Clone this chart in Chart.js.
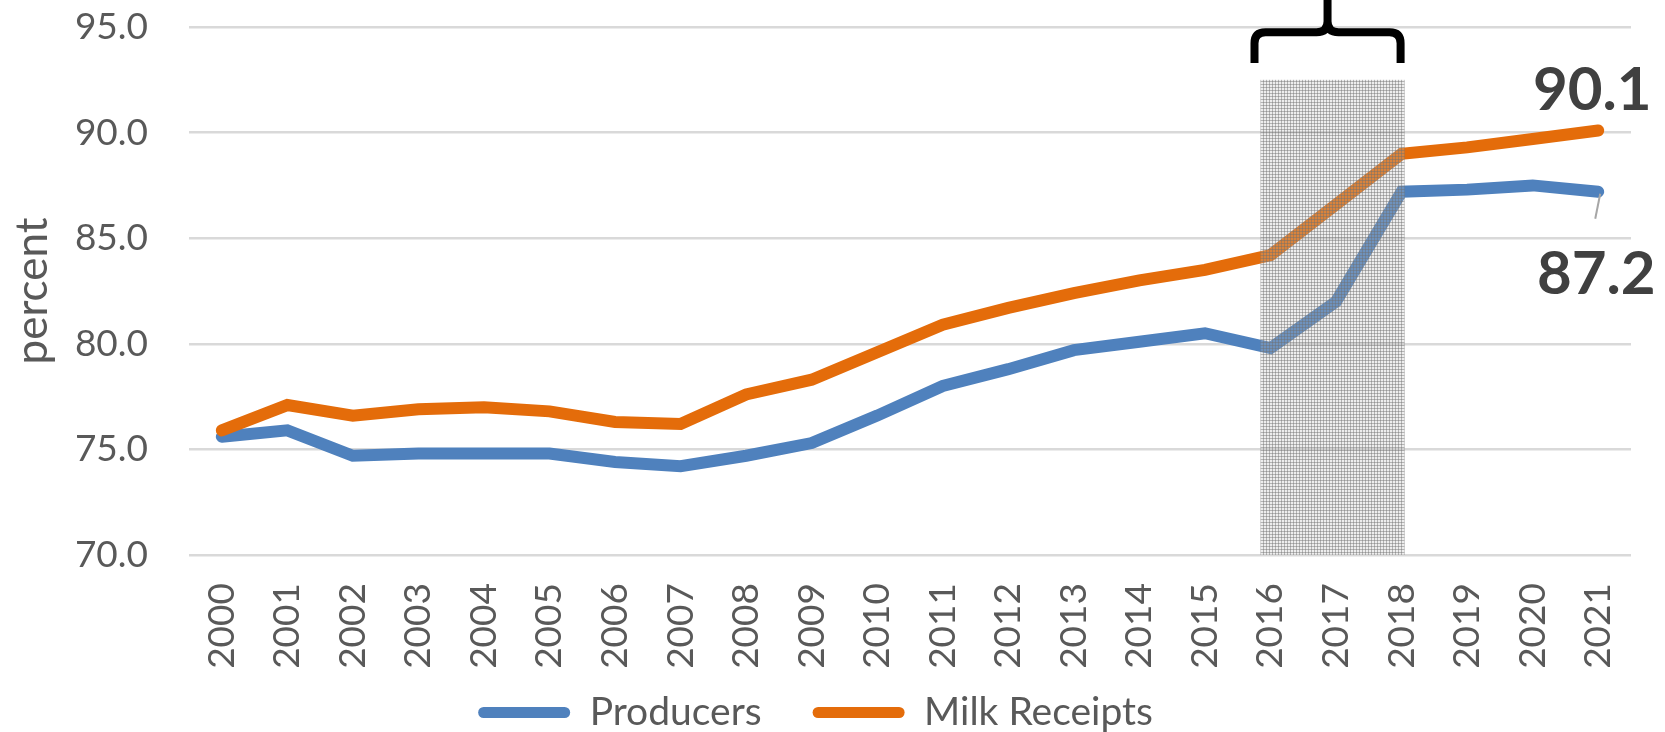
<!DOCTYPE html>
<html>
<head>
<meta charset="utf-8">
<title>Producers and Milk Receipts</title>
<script src="https://cdn.jsdelivr.net/npm/chart.js@4.4.1/dist/chart.umd.min.js"></script>
<style>
  html, body { margin: 0; padding: 0; background: #fff; }
  #wrap { position: relative; width: 1665px; height: 732px; }
</style>
</head>
<body>
<div id="wrap"><canvas id="myChart"></canvas></div>
<script>
// data
const years = ['2000','2001','2002','2003','2004','2005','2006','2007','2008','2009','2010',
  '2011','2012','2013','2014','2015','2016','2017','2018','2019','2020','2021'];
const producers = [75.6, 75.9, 74.7, 74.8, 74.8, 74.8, 74.4, 74.2, 74.7, 75.3, 76.6,
  78.0, 78.8, 79.7, 80.1, 80.5, 79.8, 82.0, 87.2, 87.3, 87.5, 87.2];
const milkReceipts = [75.9, 77.1, 76.6, 76.9, 77.0, 76.8, 76.3, 76.2, 77.6, 78.3, 79.6,
  80.9, 81.7, 82.4, 83.0, 83.5, 84.2, 86.6, 89.0, 89.3, 89.7, 90.1];
const yTicks = [70, 75, 80, 85, 90, 95];
const highlight = ['2016', '2018'];   // shaded years under the brace

const BLUE = '#4F81BD';
const ORANGE = '#E46C0A';

Chart.defaults.font.family = 'Lato, "Open Sans", sans-serif';
Chart.defaults.color = '#595959';

function makePattern(ctx) {
  const c = document.createElement('canvas');
  c.width = 3; c.height = 3;
  const p = c.getContext('2d');
  p.fillStyle = 'rgba(190,190,190,0.28)';
  p.fillRect(0, 0, 3, 3);
  p.fillStyle = 'rgba(110,110,110,0.45)';
  p.fillRect(0, 0, 3, 1);
  p.fillRect(0, 0, 1, 3);
  return ctx.createPattern(c, 'repeat');
}

// shaded box + brace + end labels
const extras = {
  id: 'extras',
  afterDatasetsDraw(chart) {
    const {ctx, chartArea, scales: {x, y}} = chart;
    const x1 = x.getPixelForValue(years.indexOf(highlight[0]));
    const x2 = x.getPixelForValue(years.indexOf(highlight[1]));

    // shaded pattern
    ctx.save();
    ctx.fillStyle = makePattern(ctx);
    const top = y.getPixelForValue(92.5);
    ctx.fillRect(x1 - 10, top, (x2 + 3) - (x1 - 10), chartArea.bottom - top);
    ctx.restore();

    // curly brace
    const L = x1 - 16, R = x2 - 1, C = (L + R) / 2;
    const yb = y.getPixelForValue(93.3), yh = y.getPixelForValue(94.75);
    const r = 11;
    ctx.save();
    ctx.strokeStyle = '#000';
    ctx.lineWidth = 8;
    ctx.lineCap = 'butt';
    ctx.lineJoin = 'round';
    ctx.beginPath();
    ctx.moveTo(L, yb);
    ctx.lineTo(L, yh + r);
    ctx.quadraticCurveTo(L, yh, L + r, yh);
    ctx.lineTo(C - r, yh);
    ctx.quadraticCurveTo(C, yh, C, yh - r);
    ctx.lineTo(C, -10);
    ctx.moveTo(R, yb);
    ctx.lineTo(R, yh + r);
    ctx.quadraticCurveTo(R, yh, R - r, yh);
    ctx.lineTo(C + r, yh);
    ctx.quadraticCurveTo(C, yh, C, yh - r);
    ctx.stroke();
    ctx.restore();

    // end value labels
    const last = years.length - 1;
    const xe = x.getPixelForValue(last);
    const yo = y.getPixelForValue(milkReceipts[last]);
    const yp = y.getPixelForValue(producers[last]);
    ctx.save();
    ctx.fillStyle = '#404040';
    ctx.font = 'bold 60px Lato, sans-serif';
    ctx.textAlign = 'center';
    ctx.textBaseline = 'alphabetic';
    ctx.fillText(milkReceipts[last].toFixed(1), xe - 6, yo - 20);
    ctx.fillText(producers[last].toFixed(1), xe - 2, yp + 102);
    // leader line
    ctx.strokeStyle = '#A6A6A6';
    ctx.lineWidth = 2;
    ctx.beginPath();
    ctx.moveTo(xe + 2, yp + 2);
    ctx.lineTo(xe - 3, yp + 27);
    ctx.stroke();
    ctx.restore();
  }
};

const ctx = document.getElementById('myChart');

new Chart(ctx, {
  type: 'line',
  data: {
    labels: years,
    datasets: [
      {
        label: 'Producers',
        data: producers,
        borderColor: BLUE,
        backgroundColor: BLUE,
        borderWidth: 12,
        borderCapStyle: 'round',
        pointRadius: 0,
        order: 1
      },
      {
        label: 'Milk Receipts',
        data: milkReceipts,
        borderColor: ORANGE,
        backgroundColor: ORANGE,
        borderWidth: 12,
        borderCapStyle: 'round',
        pointRadius: 0,
        order: 0
      }
    ]
  },
  options: {
    responsive: true,
    maintainAspectRatio: false,
    animation: false,
    layout: { padding: { left: 0, right: 34, top: 27, bottom: 0 } },
    scales: {
      x: {
        offset: true,
        grid: {
          display: true,
          drawOnChartArea: false,
          drawTicks: true,
          tickLength: 28,
          tickColor: 'rgba(0,0,0,0)'
        },
        border: { display: false },
        ticks: {
          autoSkip: false,
          maxRotation: 90,
          minRotation: 90,
          padding: 0,
          font: { size: 37 },
          color: '#595959'
        },
        afterFit(scale) {
          scale.height = 87;
          // let the rotated year labels run past the axis box
          scale._computeLabelArea = () => undefined;
        }
      },
      y: {
        min: 70,
        max: 95,
        afterBuildTicks(scale) { scale.ticks = yTicks.map(v => ({value: v})); },
        grid: {
          color: '#D9D9D9',
          lineWidth: 2.5,
          drawTicks: true,
          tickLength: 41,
          tickColor: 'rgba(0,0,0,0)'
        },
        border: { display: false },
        ticks: {
          padding: 0,
          font: { size: 37 },
          color: '#595959',
          callback: v => Number(v).toFixed(1)
        },
        title: {
          display: true,
          text: 'percent',
          color: '#595959',
          font: { size: 44 },
          padding: { top: 6, bottom: 0 }
        },
        afterFit(scale) { scale.width = 189; }
      }
    },
    plugins: {
      legend: {
        position: 'bottom',
        maxHeight: 90,
        labels: {
          boxWidth: 92,
          boxHeight: 11,
          padding: 51,
          useBorderRadius: true,
          borderRadius: 5.5,
          color: '#595959',
          font: { size: 39 },
          sort: (a, b) => a.datasetIndex - b.datasetIndex,
          generateLabels(chart) {
            const items = Chart.defaults.plugins.legend.labels.generateLabels(chart);
            items.forEach(it => { it.lineWidth = 0; });
            return items;
          }
        }
      },
      tooltip: { enabled: false },
      title: { display: false }
    }
  },
  plugins: [extras]
});
</script>
</body>
</html>
